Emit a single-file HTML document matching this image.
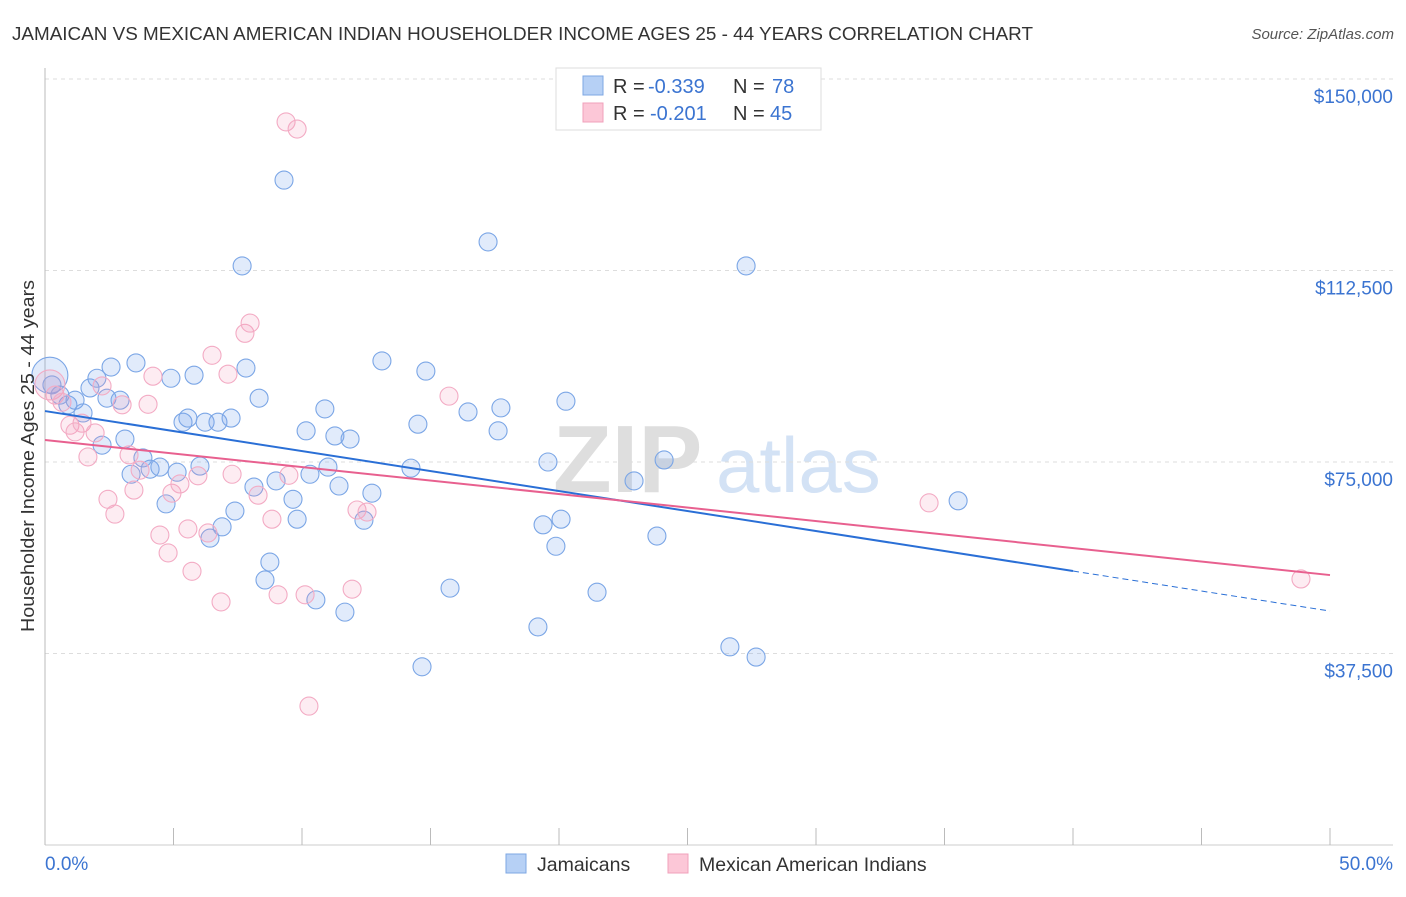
<!DOCTYPE html>
<html><head><meta charset="utf-8"><style>
body{margin:0;background:#fff;font-family:"Liberation Sans",sans-serif;}
svg text{font-family:"Liberation Sans",sans-serif;}
</style></head><body>
<svg id="chart" width="1406" height="892" xmlns="http://www.w3.org/2000/svg">
<text x="12" y="40" font-size="18.5" fill="#333" textLength="1021" lengthAdjust="spacingAndGlyphs">JAMAICAN VS MEXICAN AMERICAN INDIAN HOUSEHOLDER INCOME AGES 25 - 44 YEARS CORRELATION CHART</text>
<text x="1394" y="39" font-size="15" fill="#555" text-anchor="end" font-style="italic">Source: ZipAtlas.com</text>
<g>
<text x="553" y="492" font-size="96" fill="#dedede" font-family="Liberation Serif" font-weight="bold">ZIP</text>
<text x="716" y="492" font-size="78" fill="#d3e2f5">atlas</text>
</g>
<g id="grid"></g>
<g id="axes"></g>
<g id="marks"></g>
<text transform="translate(34,456) rotate(-90)" font-size="18" fill="#333" text-anchor="middle" textLength="352" lengthAdjust="spacingAndGlyphs">Householder Income Ages 25 - 44 years</text>
<g>
<rect x="556" y="68" width="265" height="62" fill="#fff" stroke="#ddd"/>
<rect x="583" y="76" width="20" height="19" fill="#b6d0f5" stroke="#7ea7e3"/>
<rect x="583" y="103" width="20" height="19" fill="#fcc7d7" stroke="#f0a0bb"/>
<text x="613" y="93" font-size="20" fill="#333">R =</text>
<text x="648" y="93" font-size="20" fill="#3b74d1">-0.339</text>
<text x="733" y="93" font-size="20" fill="#333">N =</text>
<text x="772" y="93" font-size="20" fill="#3b74d1">78</text>
<text x="613" y="120" font-size="20" fill="#333">R =</text>
<text x="650" y="120" font-size="20" fill="#3b74d1">-0.201</text>
<text x="733" y="120" font-size="20" fill="#333">N =</text>
<text x="770" y="120" font-size="20" fill="#3b74d1">45</text>
</g>
<g>
<rect x="506" y="854" width="20" height="19" fill="#b6d0f5" stroke="#7ea7e3"/>
<text x="537" y="871" font-size="19.5" fill="#333">Jamaicans</text>
<rect x="668" y="854" width="20" height="19" fill="#fcc7d7" stroke="#f0a0bb"/>
<text x="699" y="871" font-size="19.5" fill="#333">Mexican American Indians</text>
</g>
</svg>
<script>
const yTicks=[37500,75000,112500,150000];
const yTickLabels=["$37,500","$75,000","$112,500","$150,000"];
const xTicks=[0,5,10,15,20,25,30,35,40,45,50];
const xEndLabels=["0.0%","50.0%"];
const blueX=[0.19,0.27,0.58,0.89,1.17,1.48,1.75,2.02,2.22,2.57,2.41,2.92,3.11,3.54,3.35,3.81,4.09,4.47,4.71,4.90,5.14,5.37,5.56,5.80,6.03,6.23,6.42,6.73,6.89,7.24,7.39,7.67,7.82,8.13,8.33,8.56,8.75,8.99,9.30,9.65,9.81,10.16,10.31,10.54,10.89,11.01,11.28,11.44,11.67,11.87,12.41,12.72,13.11,14.24,14.51,14.67,14.82,15.76,16.46,17.24,17.63,17.74,19.18,19.38,19.57,19.88,20.08,20.27,21.48,22.92,23.81,24.09,26.65,27.28,27.67,35.53];
const blueY=[92000,90100,88100,86200,87100,84600,89500,91400,78300,93600,87500,87100,79500,94400,72600,75800,73600,74000,66800,91400,73000,82800,83600,92000,74200,82800,60100,82800,62300,83600,65400,113400,93400,70100,87500,51900,55400,71300,130200,67700,63800,81100,72600,48000,85400,74000,80100,70300,45600,79500,63600,68900,94800,73800,82400,34900,92800,50300,84800,118100,81100,85600,42700,62700,75000,58500,63800,86900,49500,71300,60500,75400,38800,113400,36800,67400];
const pinkX=[0.19,0.39,0.66,0.97,1.17,1.44,1.67,1.95,2.22,2.45,2.72,3.00,3.27,3.46,3.70,4.01,4.20,4.47,4.79,4.94,5.25,5.56,5.72,5.95,6.34,6.50,6.85,7.12,7.28,7.78,7.98,8.29,8.83,9.07,9.38,9.81,9.49,10.12,10.27,11.95,12.14,12.53,15.72,34.40,48.87];
const pinkY=[90100,88100,86700,82200,80900,82600,76000,80700,89900,67700,64800,86200,76400,69500,73400,86300,91800,60700,57200,68900,70700,61900,53600,72300,61100,95900,47600,92200,72600,100200,102200,68500,63800,49000,141600,140200,72400,49000,27200,50100,65600,65200,87900,67000,52100];
const blueTrend=[84977,45817];
const pinkTrend=[79300,52860];
const blueSolidEnd=40;
const NS="http://www.w3.org/2000/svg";
const X=v=>45+v/50*1285;
const Y=v=>845-v/150000*766;
function mk(tag,attrs,parent){const e=document.createElementNS(NS,tag);for(const k in attrs)e.setAttribute(k,attrs[k]);parent.appendChild(e);return e;}
const grid=document.getElementById('grid'),axes=document.getElementById('axes'),marks=document.getElementById('marks');
yTicks.forEach((t,i)=>{
 const l=mk('line',{x1:45,x2:1393,y1:Y(t),y2:Y(t),stroke:'#ddd','stroke-dasharray':'4,4'},grid);
 
 
 const tx=mk('text',{x:1393,y:Y(t)+24,'font-size':19,fill:'#3b74d1','text-anchor':'end'},axes);
 tx.textContent=yTickLabels[i];
 
 
});
const ax=mk('line',{x1:45,x2:45,y1:68,y2:845,stroke:'#bbb'},axes);


const bx=mk('line',{x1:45,x2:1393,y1:845,y2:845,stroke:'#ccc'},axes);


xTicks.forEach(t=>{
 const l=mk('line',{x1:X(t),x2:X(t),y1:828,y2:845,stroke:'#bbb'},axes);
 
 
});
const xl0=mk('text',{x:45,y:870,'font-size':19,fill:'#3b74d1'},axes);xl0.textContent=xEndLabels[0];


const xl1=mk('text',{x:1393,y:870,'font-size':19,fill:'#3b74d1','text-anchor':'end'},axes);xl1.textContent=xEndLabels[1];


function pts(xs,ys,fill,stroke,name,bigR){
 xs.forEach((x,i)=>{
  const c=mk('circle',{cx:X(x),cy:Y(ys[i]),r:i===0?bigR:9,fill:fill,stroke:stroke,'stroke-width':1.1},marks);
  
  
 });
}
pts(blueX,blueY,'rgba(120,165,235,0.22)','#7ba6e6','point-jamaican',18);
pts(pinkX,pinkY,'rgba(245,150,185,0.18)','#f3abc4','point-mexican-american-indian',15);
const by=x=>blueTrend[0]+(blueTrend[1]-blueTrend[0])*x/50;
const t1=mk('line',{x1:X(0),y1:Y(by(0)),x2:X(blueSolidEnd),y2:Y(by(blueSolidEnd)),stroke:'#2a6fd6','stroke-width':2},marks);


const t2=mk('line',{x1:X(blueSolidEnd),y1:Y(by(blueSolidEnd)),x2:X(50),y2:Y(by(50)),stroke:'#2a6fd6','stroke-width':1,'stroke-dasharray':'6,4'},marks);


const t3=mk('line',{x1:X(0),y1:Y(pinkTrend[0]),x2:X(50),y2:Y(pinkTrend[1]),stroke:'#e8608f','stroke-width':2},marks);


</script>
</body></html>
